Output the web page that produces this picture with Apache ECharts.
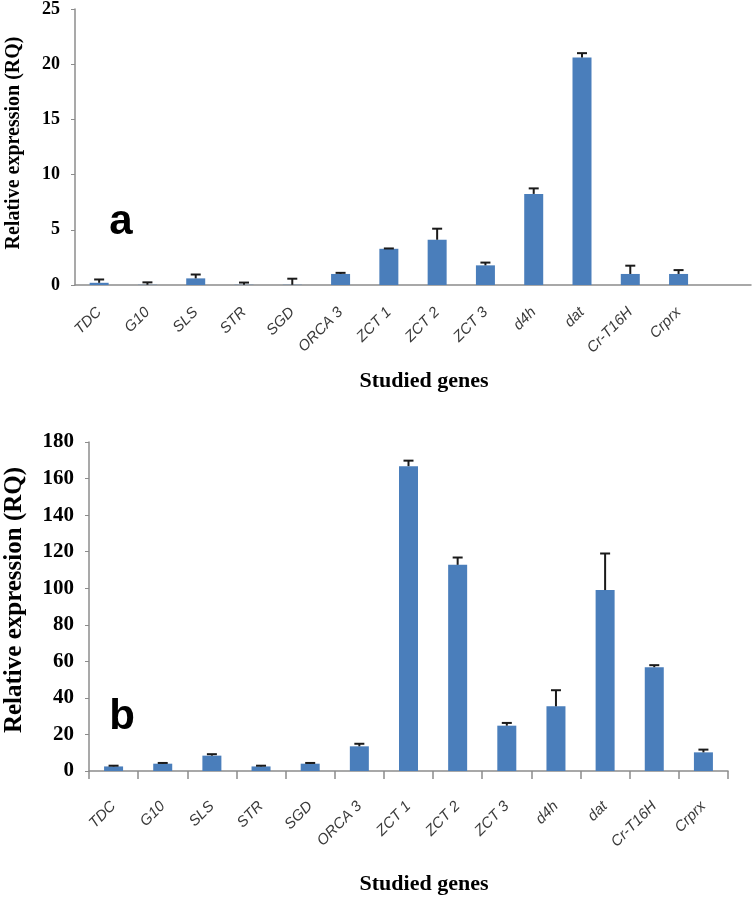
<!DOCTYPE html>
<html>
<head>
<meta charset="utf-8">
<script src="https://cdn.jsdelivr.net/npm/echarts@6/dist/echarts.min.js"></script>
<style>
html,body{margin:0;padding:0;background:#fff;}
#chart{width:752px;height:897px;}
</style>
</head>
<body>
<div id="chart"></div>
<script>
const genes = ['TDC','G10','SLS','STR','SGD','ORCA 3','ZCT 1','ZCT 2','ZCT 3','d4h','dat','Cr-T16H','Crprx'];
const rqA  = [0.2, 0.02, 0.6, 0.02, 0.02, 1.0, 3.28, 4.1, 1.78, 8.25, 20.6, 1.0, 1.0];
const errA = [0.3, 0.22, 0.35, 0.2, 0.55, 0.1, 0.03, 1.0, 0.25, 0.5, 0.4, 0.75, 0.35];
const rqB  = [2.5, 4.0, 8.4, 2.5, 4.0, 13.5, 166.8, 112.8, 24.8, 35.4, 99, 56.8, 10.2];
const errB = [0.4, 0.4, 0.8, 0.4, 0.4, 1.4, 3, 4, 1.5, 8.8, 20, 1.1, 1.5];
const ticksA = [0, 5, 10, 15, 20, 25];
const ticksB = [0, 20, 40, 60, 80, 100, 120, 140, 160, 180];
const yTitle = 'Relative expression (RQ)';
const xTitle = 'Studied genes';

const barColor = '#4a7ebb';
const axisColor = '#8c8c8c';

function errRender(params, api) {
  const x = api.value(0), v = api.value(1), e = api.value(2);
  const p0 = api.coord([x, v]);
  const p1 = api.coord([x, v + e]);
  const half = 5;
  return {
    type: 'group',
    children: [
      {type: 'line', shape: {x1: p0[0], y1: p0[1], x2: p1[0], y2: p1[1]}, style: {stroke: '#1a1a1a', lineWidth: 2}},
      {type: 'line', shape: {x1: p1[0] - half, y1: p1[1], x2: p1[0] + half, y2: p1[1]}, style: {stroke: '#1a1a1a', lineWidth: 2}}
    ]
  };
}

const chart = echarts.init(document.getElementById('chart'), null, {renderer: 'canvas'});
const xLabel = {
  interval: 0, rotate: 45, fontStyle: 'italic', fontFamily: 'Liberation Sans', fontSize: 15, color: '#3a3a3a'
};
const yLabelBase = {fontFamily: 'Liberation Serif', fontWeight: 'bold', color: '#000'};

const option = {
  animation: false,
  grid: [
    {left: 75, right: 1, top: 8, bottom: 612, containLabel: false},
    {left: 89, right: 24, top: 442, bottom: 126, containLabel: false}
  ],
  xAxis: [
    {
      type: 'category', gridIndex: 0, data: genes.concat(['']),
      axisLine: {lineStyle: {color: axisColor, width: 1.5}},
      axisTick: {show: false},
      axisLabel: Object.assign({margin: 25}, xLabel)
    },
    {
      type: 'category', gridIndex: 1, data: genes,
      axisLine: {lineStyle: {color: axisColor, width: 1.5}},
      axisTick: {show: true, length: 8, lineStyle: {color: axisColor, width: 1.5}},
      axisLabel: Object.assign({margin: 33}, xLabel)
    }
  ],
  yAxis: [
    {
      type: 'value', gridIndex: 0, min: ticksA[0], max: ticksA[ticksA.length - 1], interval: 5,
      axisLine: {show: true, lineStyle: {color: axisColor, width: 1.5}},
      axisTick: {show: true, length: 4, lineStyle: {color: axisColor}},
      splitLine: {show: false},
      axisLabel: Object.assign({fontSize: 18, margin: 15}, yLabelBase)
    },
    {
      type: 'value', gridIndex: 1, min: ticksB[0], max: ticksB[ticksB.length - 1], interval: 20,
      axisLine: {show: true, lineStyle: {color: axisColor, width: 1.5}},
      axisTick: {show: true, length: 4, lineStyle: {color: axisColor}},
      splitLine: {show: false},
      axisLabel: Object.assign({fontSize: 21, margin: 15}, yLabelBase)
    }
  ],
  series: [
    {type: 'bar', xAxisIndex: 0, yAxisIndex: 0, data: rqA, barWidth: 19, itemStyle: {color: barColor}},
    {type: 'custom', xAxisIndex: 0, yAxisIndex: 0, renderItem: errRender, z: 5,
      data: rqA.map((v, i) => [i, v, errA[i]])},
    {type: 'bar', xAxisIndex: 1, yAxisIndex: 1, data: rqB, barWidth: 19, itemStyle: {color: barColor}},
    {type: 'custom', xAxisIndex: 1, yAxisIndex: 1, renderItem: errRender, z: 5,
      data: rqB.map((v, i) => [i, v, errB[i]])}
  ],
  graphic: [
    {type: 'text', x: 14, y: 143, rotation: Math.PI / 2,
      style: {text: yTitle, font: 'bold 20px "Liberation Serif"', fill: '#000', textAlign: 'center', textVerticalAlign: 'middle'}},
    {type: 'text', x: 15, y: 600, rotation: Math.PI / 2,
      style: {text: yTitle, font: 'bold 25px "Liberation Serif"', fill: '#000', textAlign: 'center', textVerticalAlign: 'middle'}},
    {type: 'text', x: 424, y: 381,
      style: {text: xTitle, font: 'bold 22px "Liberation Serif"', fill: '#000', textAlign: 'center', textVerticalAlign: 'middle'}},
    {type: 'text', x: 424, y: 884,
      style: {text: xTitle, font: 'bold 22px "Liberation Serif"', fill: '#000', textAlign: 'center', textVerticalAlign: 'middle'}},
    {type: 'text', x: 121, y: 222,
      style: {text: 'a', font: 'bold 42px "Liberation Sans"', fill: '#000', textAlign: 'center', textVerticalAlign: 'middle'}},
    {type: 'text', x: 122, y: 717,
      style: {text: 'b', font: 'bold 42px "Liberation Sans"', fill: '#000', textAlign: 'center', textVerticalAlign: 'middle'}}
  ]
};
chart.setOption(option);
</script>
</body>
</html>
